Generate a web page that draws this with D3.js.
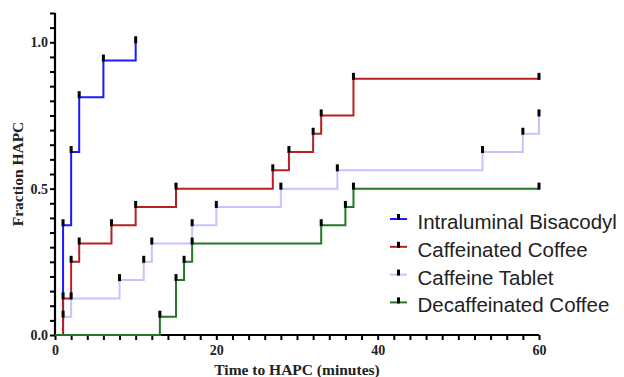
<!DOCTYPE html>
<html>
<head>
<meta charset="utf-8">
<script src="https://cdn.jsdelivr.net/npm/d3@7"></script>
<style>
  body { margin: 0; background: #fff; }
</style>
</head>
<body>
<div id="chart"></div>
<script>
// series names and colours
const seriesNames = ["Intraluminal Bisacodyl", "Caffeinated Coffee", "Caffeine Tablet", "Decaffeinated Coffee"];
const seriesColors = ["#1a1aff", "#b81e22", "#c4c4ff", "#24772a"];

// event times (minutes) and cumulative fraction with HAPC
const bisacodylTimes = [1, 2, 3, 6, 10];
const bisacodylFraction = [0.375, 0.625, 0.8125, 0.9375, 1.0];

const caffCoffeeTimes = [1, 2, 3, 7, 10, 15, 27, 29, 32, 33, 37, 60];
const caffCoffeeFraction = [0.125, 0.25, 0.3125, 0.375, 0.4375, 0.5, 0.5625, 0.625, 0.6875, 0.75, 0.875, 0.875];

const tabletTimes = [1, 2, 8, 11, 12, 17, 20, 28, 35, 53, 58, 60];
const tabletFraction = [0.0625, 0.125, 0.1875, 0.25, 0.3125, 0.375, 0.4375, 0.5, 0.5625, 0.625, 0.6875, 0.75];

const decafTimes = [13, 15, 16, 17, 33, 36, 37, 60];
const decafFraction = [0.0625, 0.1875, 0.25, 0.3125, 0.375, 0.4375, 0.5, 0.5];

const xTickLabels = [0, 20, 40, 60];
const yTickLabels = [0, 0.5, 1.0];

// build series, each starting at (0,0)
const series = [
  {name: seriesNames[0], color: seriesColors[0], t: bisacodylTimes, f: bisacodylFraction},
  {name: seriesNames[1], color: seriesColors[1], t: caffCoffeeTimes, f: caffCoffeeFraction},
  {name: seriesNames[2], color: seriesColors[2], t: tabletTimes, f: tabletFraction},
  {name: seriesNames[3], color: seriesColors[3], t: decafTimes, f: decafFraction}
].map(s => ({
  name: s.name,
  color: s.color,
  points: [{x: 0, y: 0}].concat(s.t.map((t, i) => ({x: t, y: s.f[i]})))
}));

// draw order so green lies on top like the original
const drawOrder = [0, 2, 1, 3];

let margin = {top: 13, right: 85, bottom: 42, left: 55},
    width = 624 - margin.left - margin.right,
    height = 377 - margin.top - margin.bottom;

let svg = d3.select("#chart").append("svg")
    .attr("width", 624)
    .attr("height", 377)
  .append("g")
    .attr("transform", "translate(" + margin.left + "," + margin.top + ")");

let x = d3.scaleLinear().domain([0, 60]).range([0, 484]);
let y = d3.scaleLinear().domain([0, 1.1]).range([height, 0]);

const serif = "'Liberation Serif', 'Times New Roman', serif";

// Y axis: minor ticks every 0.05, labels at 0, 0.5, 1.0
let yAxis = svg.append("g")
    .call(d3.axisLeft(y).tickValues(d3.range(0, 1.1001, 0.05)).tickSize(5)
      .tickFormat(d => yTickLabels.some(v => Math.abs(v - d) < 1e-6) ? d3.format(".1f")(d) : ""));
yAxis.select(".domain").attr("stroke", "#000").attr("stroke-width", 2.2).attr("d", "M0," + y(1.1) + "V" + y(0));
yAxis.selectAll(".tick line").attr("stroke", "#000").attr("stroke-width", 2);
yAxis.selectAll(".tick text")
    .attr("font-family", serif).attr("font-weight", "bold").attr("font-size", 14)
    .attr("fill", "#222").attr("x", -7);

// X axis: minor ticks every 2 minutes
let xAxis = svg.append("g")
    .attr("transform", "translate(0," + height + ")")
    .call(d3.axisBottom(x).tickValues(d3.range(0, 61, 2)).tickSize(5)
      .tickFormat(d => xTickLabels.includes(d) ? d : ""));
xAxis.select(".domain").attr("stroke", "#000").attr("stroke-width", 2.2).attr("d", "M0,0H" + x(60));
xAxis.selectAll(".tick line").attr("stroke", "#000").attr("stroke-width", 2);
xAxis.selectAll(".tick text")
    .attr("font-family", serif).attr("font-weight", "bold").attr("font-size", 14)
    .attr("fill", "#222").attr("y", 10);

// axis titles
svg.append("text")
    .attr("transform", "translate(" + (-37) + "," + (height / 2) + ") rotate(-90)")
    .attr("text-anchor", "middle")
    .attr("dy", "0.35em")
    .attr("font-family", serif).attr("font-weight", "bold").attr("font-size", 15.5)
    .attr("fill", "#222")
    .text("Fraction HAPC");

svg.append("text")
    .attr("x", x(30))
    .attr("y", height + 40)
    .attr("text-anchor", "middle")
    .attr("font-family", serif).attr("font-weight", "bold").attr("font-size", 15.5)
    .attr("fill", "#222")
    .text("Time to HAPC (minutes)");

// step lines
let line = d3.line()
    .x(d => x(d.x))
    .y(d => y(d.y))
    .curve(d3.curveStepAfter);

drawOrder.forEach(i => {
  let s = series[i];
  svg.append("path")
      .datum(s.points)
      .attr("fill", "none")
      .attr("stroke", s.color)
      .attr("stroke-width", 2)
      .attr("d", line);
});

// tick markers at each step
drawOrder.forEach(i => {
  let s = series[i];
  svg.selectAll(null)
      .data(s.points.slice(1))
    .enter().append("rect")
      .attr("x", d => x(d.x) - 1.5)
      .attr("y", d => y(d.y) - 6)
      .attr("width", 3)
      .attr("height", 7)
      .attr("fill", "#000");
});

// legend
let legend = svg.append("g")
    .attr("transform", "translate(" + (390 - margin.left) + "," + (219 - margin.top) + ")");

series.forEach((s, i) => {
  let g = legend.append("g").attr("transform", "translate(0," + (i * 27.8) + ")");
  g.append("line")
      .attr("x1", 0).attr("x2", 17).attr("y1", 0).attr("y2", 0)
      .attr("stroke", s.color).attr("stroke-width", 2);
  g.append("rect")
      .attr("x", 7).attr("y", -5).attr("width", 3).attr("height", 6)
      .attr("fill", "#000");
  g.append("text")
      .attr("x", 27.5).attr("y", 10)
      .attr("font-family", "'Liberation Sans', Arial, sans-serif")
      .attr("font-size", 20.5)
      .attr("fill", "#222")
      .text(s.name);
});
</script>
</body>
</html>
